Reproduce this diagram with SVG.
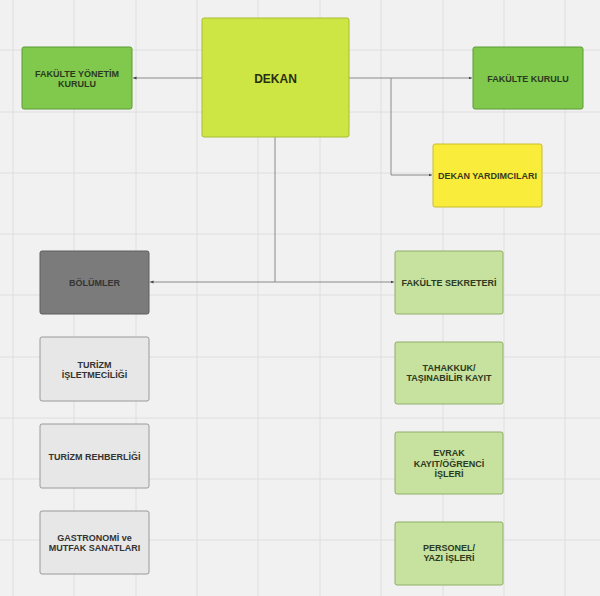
<svg xmlns="http://www.w3.org/2000/svg" width="600" height="596" viewBox="0 0 600 596">
<defs>
<style>
.bg{fill:#f1f1f1}
.grid line{stroke:#dedede;stroke-width:1}
.box{stroke-width:1}
.green{fill:#80c94c;stroke:#5f9a37}
.dekan{fill:#cde644;stroke:#a9bd35}
.yellow{fill:#f9ec3a;stroke:#c9bd2c}
.dark{fill:#7b7b7b;stroke:#5e5e5e}
.light{fill:#e7e7e7;stroke:#9a9a9a}
.pale{fill:#c7e19f;stroke:#8fae68}
text{font-family:"Liberation Sans",Arial,sans-serif;font-weight:bold;font-size:9px;text-anchor:middle;fill:#333}
.tg{fill:#2c3a22}
.conn{fill:none;stroke:#8a8a8a;stroke-width:1}
</style>
<marker id="arr" markerWidth="4" markerHeight="4" refX="3.5" refY="2" orient="auto" markerUnits="userSpaceOnUse">
<path d="M0,0.5 L3.5,2 L0,3.5 Z" fill="#444"/>
</marker>
</defs>
<rect class="bg" x="0" y="0" width="600" height="596"/>
<g class="grid">
<line x1="13" y1="0" x2="13" y2="596"/>
<line x1="74" y1="0" x2="74" y2="596"/>
<line x1="136" y1="0" x2="136" y2="596"/>
<line x1="197" y1="0" x2="197" y2="596"/>
<line x1="258" y1="0" x2="258" y2="596"/>
<line x1="320" y1="0" x2="320" y2="596"/>
<line x1="381" y1="0" x2="381" y2="596"/>
<line x1="443" y1="0" x2="443" y2="596"/>
<line x1="504" y1="0" x2="504" y2="596"/>
<line x1="565" y1="0" x2="565" y2="596"/>
<line x1="0" y1="50" x2="600" y2="50"/>
<line x1="0" y1="112" x2="600" y2="112"/>
<line x1="0" y1="173" x2="600" y2="173"/>
<line x1="0" y1="234" x2="600" y2="234"/>
<line x1="0" y1="295" x2="600" y2="295"/>
<line x1="0" y1="357" x2="600" y2="357"/>
<line x1="0" y1="418" x2="600" y2="418"/>
<line x1="0" y1="479" x2="600" y2="479"/>
<line x1="0" y1="540" x2="600" y2="540"/>
</g>
<g id="connectors">
<path class="conn" d="M202,78 H133" marker-end="url(#arr)"/>
<path class="conn" d="M349,78 H472" marker-end="url(#arr)"/>
<path class="conn" d="M391,78 V175 H432" marker-end="url(#arr)"/>
<path class="conn" d="M275,137 V282 H150" marker-end="url(#arr)"/>
<path class="conn" d="M275,282 H394" marker-end="url(#arr)"/>
</g>
<g id="fakulte-yonetim-kurulu">
<rect class="box green" x="22" y="47" width="110" height="62" rx="2"/>
<text class="tg" x="77" y="76.5">FAKÜLTE YÖNETİM</text>
<text class="tg" x="77" y="86.5">KURULU</text>
</g>
<g id="dekan">
<rect class="box dekan" x="202" y="18" width="147" height="119" rx="2"/>
<text x="275.5" y="82.5" style="font-size:12px;fill:#2a2f10">DEKAN</text>
</g>
<g id="fakulte-kurulu">
<rect class="box green" x="473" y="47" width="110" height="62" rx="2"/>
<text class="tg" x="528" y="81.5">FAKÜLTE KURULU</text>
</g>
<g id="dekan-yardimcilari">
<rect class="box yellow" x="433" y="144" width="109" height="63" rx="2"/>
<text x="487.5" y="178.5" style="fill:#3a3a1a">DEKAN YARDIMCILARI</text>
</g>
<g id="bolumler">
<rect class="box dark" x="40" y="251" width="109" height="63" rx="2"/>
<text x="94.5" y="285.5">BÖLÜMLER</text>
</g>
<g id="fakulte-sekreteri">
<rect class="box pale" x="395" y="251" width="108" height="63" rx="2"/>
<text class="tg" x="449" y="285.5">FAKÜLTE SEKRETERİ</text>
</g>
<g id="turizm-isletmeciligi">
<rect class="box light" x="40" y="337" width="109" height="64" rx="2"/>
<text x="94.5" y="367.5">TURİZM</text>
<text x="94.5" y="377.5">İŞLETMECİLİĞİ</text>
</g>
<g id="tahakkuk">
<rect class="box pale" x="395" y="342" width="108" height="62" rx="2"/>
<text class="tg" x="449" y="371">TAHAKKUK/</text>
<text class="tg" x="449" y="381">TAŞINABİLİR KAYIT</text>
</g>
<g id="turizm-rehberligi">
<rect class="box light" x="40" y="424" width="109" height="64" rx="2"/>
<text x="94.5" y="459.5">TURİZM REHBERLİĞİ</text>
</g>
<g id="evrak">
<rect class="box pale" x="395" y="432" width="108" height="62" rx="2"/>
<text class="tg" x="449" y="456">EVRAK</text>
<text class="tg" x="449" y="466.5">KAYIT/ÖĞRENCİ</text>
<text class="tg" x="449" y="477">İŞLERİ</text>
</g>
<g id="gastronomi">
<rect class="box light" x="40" y="511" width="109" height="63" rx="2"/>
<text x="94.5" y="541">GASTRONOMİ ve</text>
<text x="94.5" y="551">MUTFAK SANATLARI</text>
</g>
<g id="personel">
<rect class="box pale" x="395" y="522" width="108" height="63" rx="2"/>
<text class="tg" x="449" y="551">PERSONEL/</text>
<text class="tg" x="449" y="561">YAZI İŞLERİ</text>
</g>
</svg>
